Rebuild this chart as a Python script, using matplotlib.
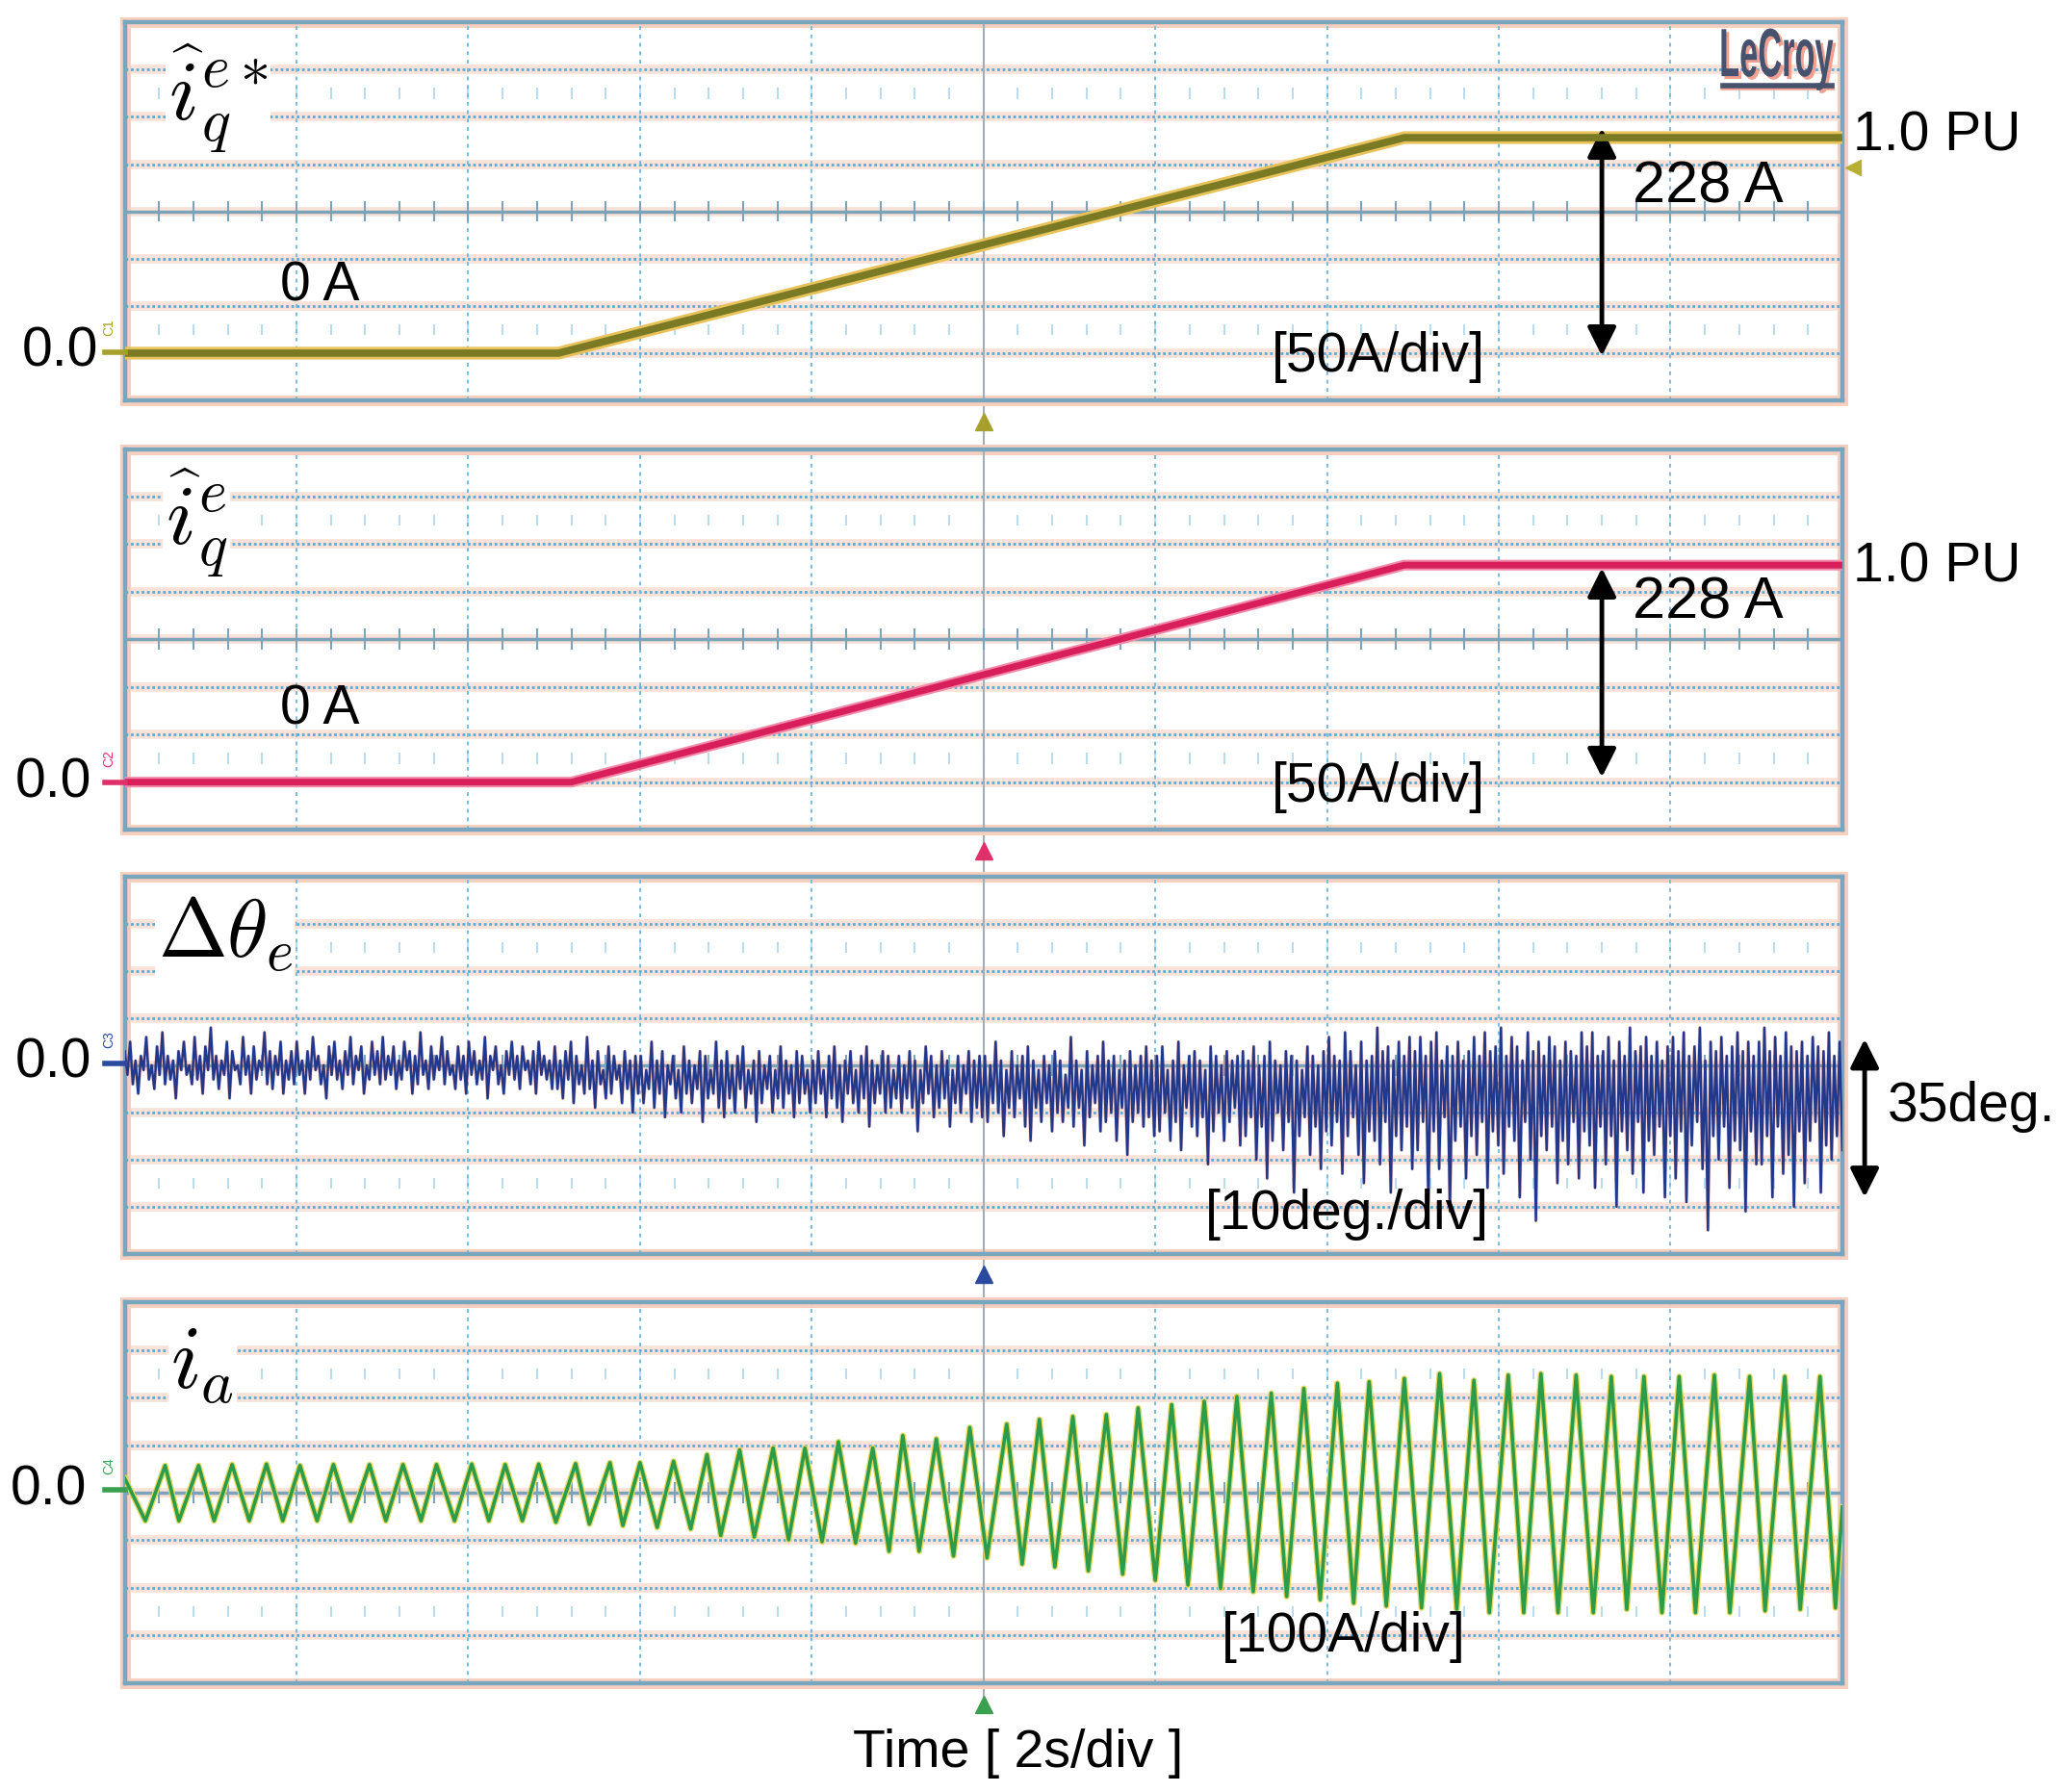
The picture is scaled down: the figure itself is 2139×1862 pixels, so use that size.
import matplotlib
matplotlib.use('Agg')
import matplotlib.pyplot as plt
import numpy as np
from matplotlib.lines import Line2D
from matplotlib.patches import Rectangle, PathPatch
from matplotlib.textpath import TextPath
from matplotlib.font_manager import FontProperties
from matplotlib.transforms import Affine2D

plt.rcParams['font.family'] = ['Liberation Sans', 'DejaVu Sans']
plt.rcParams['mathtext.fontset'] = 'cm'

# ---- data ----
# time in s (2 s/div, 10 div)
iq_ref_t = [0.0, 5.05, 14.9, 20.0]
iq_ref_a = [0.0, 0.0, 228.0, 228.0]          # A, 50 A/div

iq_t = [0.0, 5.2, 14.9, 20.0]
iq_a = [0.0, 0.0, 228.0, 228.0]              # A, 50 A/div

# delta theta_e in deg (10 deg/div), 32 samples per second
dtheta_0to5 = [3, -2, 5, -4, 1, -6, 2, -1, 6, -3, 0, -5, 4, -2, 7, -4, 2, -3, 1, -7, 3, -1, 5, -2, 0, -4, 6, -3, 2, -6, 4, -1,
               8, -3, 2, -5, 1, -2, 5, -7, 3, -1, 0, -4, 6, -2, 2, -6, 4, -3, 1, -1, 7, -4, 3, -5, 2, -2, 5, -6, 1, -3, 3, -4,
               5, -2, 1, -6, 3, -3, 6, -1, 2, -4, 0, -7, 4, -2, 5, -3, 1, -5, 3, -2, 6, -4, 2, -1, 4, -6, 0, -3, 5, -2, 3, -4,
               6, -3, 2, -2, 4, -5, 1, -3, 5, -1, 3, -6, 2, -4, 7, -2, 1, -5, 4, -3, 2, -1, 6, -4, 3, -2, 0, -5, 4, -3, 2, -6,
               5, -2, 3, -4, 1, -3, 6, -7, 2, -1, 4, -4, 0, -6, 3, -2, 5, -3, 2, -5, 4, -1, 1, -4, 3, -6, 5, -2, 2, -3, 1, -5]
dtheta_5to10 = [4, -5, 1, -7, 3, -3, 5, -8, 2, -4, 0, -6, 6, -5, 1, -9, 3, -4, -1, -7, 4, -6, 2, -3, 0, -8, 3, -5, 1, -10, 2, -6,
                2, -8, -1, -5, 5, -9, 1, -6, 3, -11, 0, -4, 2, -7, -1, -10, 4, -6, 1, -8, 0, -5, 3, -12, 2, -7, -1, -6, 5, -9, 1, -11,
                3, -7, 0, -10, 2, -5, 4, -9, -1, -6, 1, -12, 3, -8, 0, -5, 2, -10, -1, -7, 4, -9, 1, -6, 0, -11, 3, -8, 2, -6, -1, -10,
                1, -8, 3, -6, -1, -11, 2, -7, 4, -9, 0, -12, 1, -6, 3, -8, -1, -10, 2, -7, 4, -13, 1, -8, 0, -6, 3, -10, 2, -9, -1, -7,
                2, -10, 0, -7, 3, -9, 1, -14, -1, -8, 4, -6, 2, -11, 0, -9, 3, -7, 1, -13, -1, -8, 2, -10, 0, -6, 3, -12, 1, -9, 2, -11]
dtheta_10to15 = [2, -12, 0, -8, 5, -10, 1, -15, -1, -9, 3, -11, 0, -7, 2, -13, 4, -16, 1, -9, -1, -12, 2, -8, 0, -14, 3, -10, 1, -12, -2, -9,
                 6, -13, 1, -9, -1, -17, 3, -11, 0, -8, 2, -14, 5, -12, 1, -10, 2, -16, -1, -9, 1, -19, 3, -12, 0, -10, 2, -13, 4, -11, 1, -15,
                 2, -14, 4, -10, -1, -16, 1, -12, 5, -18, 0, -9, 2, -13, 3, -15, 1, -11, -1, -21, 4, -14, 2, -10, 0, -16, 3, -12, 1, -9, 2, -17,
                 3, -15, 1, -11, 4, -20, 0, -13, 2, -24, 5, -16, 1, -10, 0, -18, 3, -12, 2, -27, 1, -15, -1, -11, 4, -19, 2, -13, 0, -22, 3, -14,
                 6, -17, 2, -12, 1, -23, 7, -15, 3, -11, 0, -19, 5, -25, 1, -14, 2, -16, 8, -21, 3, -12, 4, -27, 1, -15, 5, -18, 2, -13, 6, -22]
dtheta_15to20 = [3, -18, 6, -12, 2, -29, 5, -14, 7, -22, 1, -11, 4, -31, 2, -16, 5, -13, 1, -24, 3, -15, 6, -19, 2, -12, 7, -26, 3, -14, 4, -17,
                 8, -23, 2, -13, 6, -16, 4, -28, 1, -12, 7, -20, 3, -33, 5, -15, 2, -18, 6, -13, 4, -25, 1, -16, 5, -21, 3, -12, 2, -24, 7, -14,
                 4, -17, 7, -26, 2, -13, 3, -21, 6, -15, 1, -30, 5, -14, 2, -18, 8, -23, 3, -12, 4, -27, 6, -16, 2, -19, 5, -13, 1, -28, 4, -15,
                 6, -24, 3, -14, 7, -29, 2, -17, 4, -12, 8, -22, 1, -35, 5, -15, 3, -20, 6, -13, 2, -26, 4, -16, 7, -18, 3, -31, 5, -14, 2, -21,
                 5, -21, 8, -15, 3, -28, 6, -13, 2, -23, 7, -19, 4, -30, 3, -14, 5, -25, 2, -16, 6, -12, 4, -27, 3, -17, 7, -20, 2, -15, 5, -18]

# i_a extrema (100 A/div)
ia_peak_t = [0.47, 0.86, 1.25, 1.65, 2.04, 2.43, 2.85, 3.24, 3.63, 4.04,
             4.43, 4.82, 5.25, 5.65, 6.00, 6.39, 6.78, 7.16, 7.55, 7.92,
             8.31, 8.71, 9.06, 9.45, 9.84, 10.27, 10.65, 11.04, 11.43, 11.80,
             12.19, 12.57, 12.95, 13.35, 13.73, 14.12, 14.49, 14.90, 15.31, 15.71,
             16.11, 16.49, 16.90, 17.31, 17.69, 18.10, 18.51, 18.92, 19.33, 19.74]
ia_peak_a = [57, 57, 59, 60, 57, 59, 59, 59, 59, 60,
             59, 60, 61, 63, 63, 66, 80, 90, 94, 94,
             107, 94, 120, 113, 137, 144, 154, 160, 164, 178,
             185, 192, 202, 209, 219, 230, 233, 240, 250, 236,
             247, 250, 247, 244, 244, 244, 247, 244, 244, 244]
ia_trough_t = [0.24, 0.63, 1.04, 1.45, 1.84, 2.24, 2.63, 3.04, 3.45, 3.84,
               4.24, 4.63, 5.02, 5.41, 5.80, 6.20, 6.59, 6.94, 7.33, 7.73,
               8.12, 8.51, 8.90, 9.25, 9.65, 10.04, 10.45, 10.83, 11.22, 11.62,
               12.00, 12.38, 12.76, 13.14, 13.53, 13.92, 14.31, 14.69, 15.10, 15.51,
               15.89, 16.29, 16.69, 17.10, 17.49, 17.90, 18.29, 18.69, 19.10, 19.51,
               19.92]
ia_trough_a = [-59, -59, -59, -59, -59, -59, -59, -59, -59, -59,
               -59, -59, -62, -66, -69, -73, -76, -90, -93, -99,
               -103, -106, -123, -123, -133, -137, -150, -156, -164, -171,
               -184, -194, -201, -208, -218, -225, -232, -238, -242, -245,
               -252, -252, -252, -252, -245, -252, -252, -252, -248, -245,
               -242]
ia_start = 30
ia_end = -30

# ---- figure ----
fig = plt.figure(figsize=(21.39, 18.62), dpi=100)
W, H = 1568.0, 1365.0  # layout measured on the preview
S = 2139.0 / W


def fx(x):
    return x / W


def fy(y):
    return 1 - y / H


left, right = 95, 1403
rows = [(17, 305), (342, 632), (668, 955), (992, 1282)]
axes = []
for top, bot in rows:
    ax = fig.add_axes([fx(left), fy(bot), (right - left) / W, (bot - top) / H])
    axes.append(ax)

# centre trigger line running through all panels
xc = fx((left + right) / 2)
fig.add_artist(Line2D([xc, xc], [fy(17), fy(1300)], transform=fig.transFigure,
                      color='#a3adb3', lw=1.5, zorder=-1))


def scope_grid(ax):
    tr = ax.transAxes
    for k in range(1, 8):
        y = k / 8
        ax.plot([0, 1], [y, y], transform=tr, color='#fbe2d8', lw=7, zorder=0.2)
        if k != 4:
            ax.plot([0, 1], [y, y], transform=tr, color='#5aaad6', lw=2,
                    ls=(0, (1, 1)), zorder=0.5)
    for k in range(1, 10):
        x = k / 10
        if k != 5:
            ax.plot([x, x], [0, 1], transform=tr, color='#79bbdf', lw=1.4,
                    ls=(0, (2, 2.5)), zorder=0.5)
    ax.plot([0.5, 0.5], [0, 1], transform=tr, color='#a3adb3', lw=1.5, zorder=0.6)
    # centre line with minor ticks
    ax.plot([0, 1], [0.5, 0.5], transform=tr, color='#7aa4ba', lw=2.5, zorder=0.6)
    xs = np.arange(0.02, 1.0, 0.02)
    tx, ty = [], []
    for x in xs:
        tx += [x, x, np.nan]
        ty += [0.475, 0.525, np.nan]
    ax.plot(tx, ty, transform=tr, color='#7aa4ba', lw=1.5, zorder=0.6)
    # faint tick rows
    for yr in (0.5 - 2.5 / 8, 0.5 + 2.5 / 8):
        tx, ty = [], []
        for x in xs:
            tx += [x, x, np.nan]
            ty += [yr - 0.012, yr + 0.012, np.nan]
        ax.plot(tx, ty, transform=tr, color='#b9dcee', lw=1.5, zorder=0.4)
    ax.add_patch(Rectangle((0, 0), 1, 1, transform=tr, fill=False,
                           edgecolor='#f7cfbf', lw=8, clip_on=False, zorder=0.3))
    for s in ax.spines.values():
        s.set_color('#79a6bf')
        s.set_linewidth(3.2)
    ax.set_xticks([])
    ax.set_yticks([])


ylims = [(-50, 350), (-50, 350), (-40, 40), (-400, 400)]
for ax, yl in zip(axes, ylims):
    ax.set_xlim(0, 20)
    ax.set_ylim(*yl)
    scope_grid(ax)

# traces
ax1, ax2, ax3, ax4 = axes
ax1.plot(iq_ref_t, iq_ref_a, color='#e8c25a', lw=9.5, solid_capstyle='butt', zorder=3)
ax1.plot(iq_ref_t, iq_ref_a, color='#7b7a24', lw=5.5, solid_capstyle='butt', zorder=4)

ax2.plot(iq_t, iq_a, color='#f08aa8', lw=8, solid_capstyle='butt', zorder=3)
ax2.plot(iq_t, iq_a, color='#d81e5b', lw=5, solid_capstyle='butt', zorder=4)

dtheta = np.array(dtheta_0to5 + dtheta_5to10 + dtheta_10to15 + dtheta_15to20, dtype=float)
t_theta = np.linspace(0, 20, len(dtheta))
ax3.plot(t_theta, dtheta, color='#e88a8a', lw=2.6, alpha=0.45, zorder=3)
ax3.plot(t_theta, dtheta, color='#22388a', lw=1.8, zorder=4)

t_ext = np.array([0.0] + ia_peak_t + ia_trough_t + [20.0])
a_ext = np.array([ia_start] + ia_peak_a + ia_trough_a + [ia_end], dtype=float)
order = np.argsort(t_ext)
ax4.plot(t_ext[order], a_ext[order], color='#e4d862', lw=4.5, zorder=3)
ax4.plot(t_ext[order], a_ext[order], color='#2c9c4a', lw=2.6, zorder=4)

# trigger markers under each panel, channel markers at left
ch_cols = ['#a8a02c', '#e0306a', '#2a4aa0', '#3aa050']
ch_names = ['C1', 'C2', 'C3', 'C4']
zero_y = [268, 596, 810, 1135]
for ax, c, name, zy in zip(axes, ch_cols, ch_names, zero_y):
    ax.plot([10], [-0.055], marker='^', ms=13, color=c,
            transform=ax.get_xaxis_transform(), clip_on=False, zorder=5)
    fig.add_artist(Line2D([fx(80), fx(95)], [fy(zy), fy(zy)],
                          transform=fig.transFigure, color=c, lw=4))
    fig.text(fx(78), fy(zy - 12), name, color=c, fontsize=10, rotation=90,
             ha='left', va='bottom')
ax1.plot([1.006], [0.615], marker='<', ms=12, color='#b8b030',
         transform=ax1.transAxes, clip_on=False)

# texts
big = 41
for zy, xr in zip(zero_y, [75, 70, 70, 66]):
    fig.text(fx(xr), fy(zy), '0.0', fontsize=big, ha='right', va='center')

for yy in (218, 541):
    fig.text(fx(213), fy(yy), '0 A', fontsize=big, ha='left', va='center')
for yy in (104, 432):
    fig.text(fx(1411), fy(yy), '1.0 PU', fontsize=big, ha='left', va='center')
for yy in (143, 460):
    fig.text(fx(1243), fy(yy), '228 A', fontsize=44, ha='left', va='center')
for yy in (272, 600):
    fig.text(fx(968), fy(yy), '[50A/div]', fontsize=big, ha='left', va='center')
fig.text(fx(918), fy(925), '[10deg./div]', fontsize=big, ha='left', va='center')
fig.text(fx(1437), fy(843), '35deg.', fontsize=big, ha='left', va='center')
fig.text(fx(930), fy(1247), '[100A/div]', fontsize=big, ha='left', va='center')
fig.text(fx(775), fy(1336), 'Time [ 2s/div ]', fontsize=40, ha='center', va='center')

wb = dict(facecolor='white', edgecolor='none', pad=2)
fig.text(fx(128), fy(75), r'$\widehat{i}_q^{e*}$', fontsize=64, ha='left', va='center', bbox=wb)
fig.text(fx(126), fy(398), r'$\widehat{i}_q^{e}$', fontsize=64, ha='left', va='center', bbox=wb)
fig.text(fx(120), fy(712), r'$\Delta\theta_e$', fontsize=62, ha='left', va='center', bbox=wb)
fig.text(fx(130), fy(1040), r'$i_a$', fontsize=66, ha='left', va='center', bbox=wb)

# LeCroy logo, squeezed text outline
logo = TextPath((0, 0), 'LeCroy', size=1,
                prop=FontProperties(family='Liberation Sans', weight='bold'))
ext = logo.get_extents()
sx = (1396 - 1311) * S / ext.width
sy = 38 * S / 0.73
x0 = 1311 * S - ext.x0 * sx
y0 = 1862 - 58 * S
for dx, dy, col, z in ((3, -3, '#f2a090', 6), (0, 0, '#46526e', 7)):
    tr = Affine2D().scale(sx, sy).translate(x0 + dx, y0 + dy)
    fig.add_artist(PathPatch(logo, transform=tr, facecolor=col, edgecolor='none', zorder=z))
fig.add_artist(Line2D([fx(1312), fx(1395)], [fy(67), fy(67)], transform=fig.transFigure,
                      color='#f2a090', lw=4, zorder=6))
fig.add_artist(Line2D([fx(1312), fx(1395)], [fy(65), fy(65)], transform=fig.transFigure,
                      color='#46526e', lw=4, zorder=7))

# double arrows
arw = dict(arrowstyle='<|-|>', color='black', lw=3.5, mutation_scale=45, shrinkA=0, shrinkB=0)
ax1.annotate('', xy=(17.2, 238), xytext=(17.2, -3), arrowprops=arw)
ax2.annotate('', xy=(17.2, 225), xytext=(17.2, 5), arrowprops=arw)
ax3.annotate('', xy=(20.26, 5.6), xytext=(20.26, -28), arrowprops=arw, annotation_clip=False)

fig.savefig('out.png', dpi=100, facecolor='white')
